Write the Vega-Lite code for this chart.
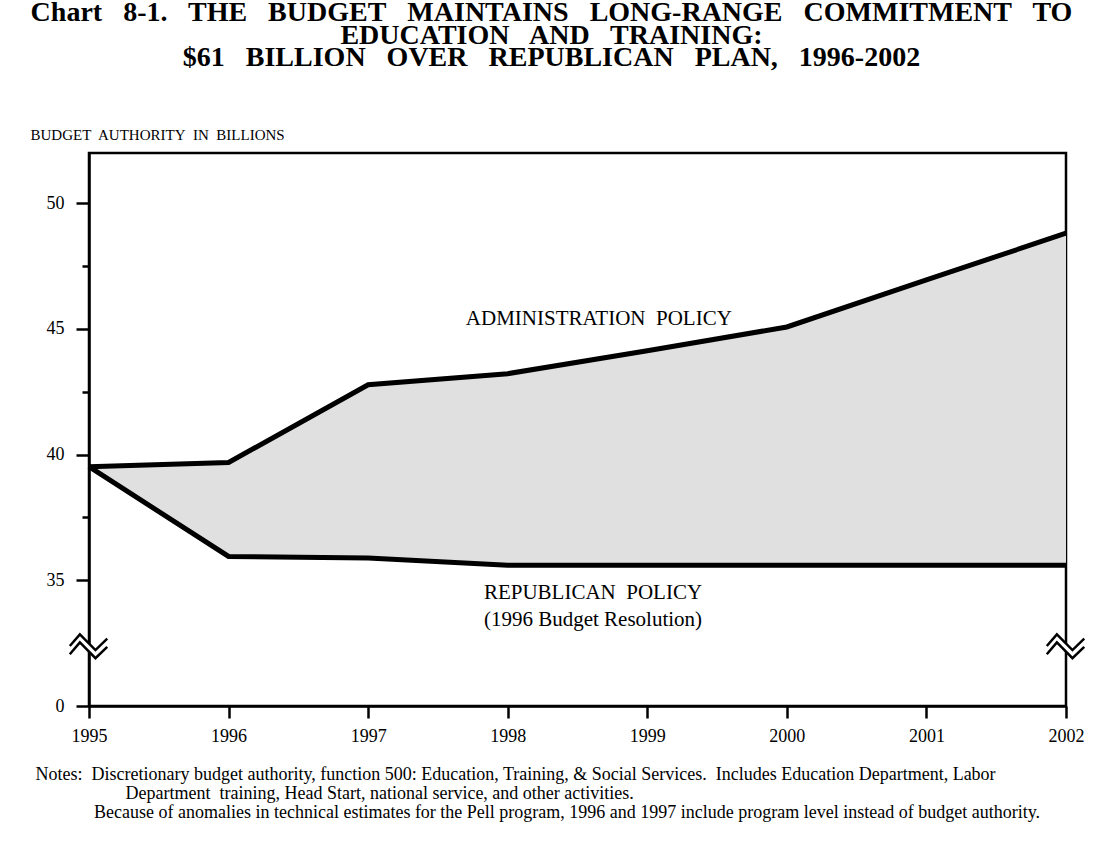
{
  "$schema": "https://vega.github.io/schema/vega-lite/v6.json",
  "width": 977,
  "height": 553,
  "autosize": {"type": "none"},
  "padding": {"left": 89, "top": 153, "right": 42, "bottom": 140},
  "background": "white",
  "title": {
    "text": ["Chart\u00a0\u00a0 8-1.\u00a0\u00a0 THE\u00a0\u00a0 BUDGET\u00a0\u00a0 MAINTAINS\u00a0\u00a0 LONG-RANGE\u00a0\u00a0 COMMITMENT\u00a0\u00a0 TO", "EDUCATION\u00a0\u00a0 AND\u00a0\u00a0 TRAINING:", "$61\u00a0\u00a0 BILLION\u00a0\u00a0 OVER\u00a0\u00a0 REPUBLICAN\u00a0\u00a0 PLAN,\u00a0\u00a0 1996-2002"],
    "font": "Liberation Serif",
    "fontSize": 28,
    "fontWeight": "bold",
    "lineHeight": 22.5,
    "color": "black",
    "anchor": "middle",
    "frame": "group",
    "dx": -26,
    "offset": 55
  },
  "datasets": {
    "budget": [
      {"year": 1995, "admin": 39.52, "rep": 39.52},
      {"year": 1996, "admin": 39.69, "rep": 35.95},
      {"year": 1997, "admin": 42.78, "rep": 35.89},
      {"year": 1998, "admin": 43.22, "rep": 35.6},
      {"year": 1999, "admin": 44.13, "rep": 35.6},
      {"year": 2000, "admin": 45.08, "rep": 35.6},
      {"year": 2001, "admin": 46.95, "rep": 35.6},
      {"year": 2002, "admin": 48.81, "rep": 35.6}
    ],
    "labels": [
      {"year": 1998.653, "value": 45.16, "text": "ADMINISTRATION\u00a0 POLICY"},
      {"year": 1998.611, "value": 34.245, "text": "REPUBLICAN\u00a0 POLICY"},
      {"year": 1998.611, "value": 33.17, "text": "(1996 Budget Resolution)"}
    ],
    "breaks": [
      {"year": 1995, "value": 32.37},
      {"year": 2002, "value": 32.37}
    ]
  },
  "layer": [
    {
      "data": {"name": "budget"},
      "mark": {"type": "area", "color": "#e0e0e0"},
      "encoding": {
        "x": {
          "field": "year", "type": "quantitative",
          "scale": {"domain": [1995, 2002], "nice": false, "zero": false},
          "axis": {
            "values": [1995, 1996, 1997, 1998, 1999, 2000, 2001, 2002],
            "format": "d",
            "grid": false,
            "labelFlush": false,
            "domainColor": "black", "domainWidth": 2.5,
            "tickColor": "black", "tickWidth": 2.5, "tickSize": 12,
            "labelFont": "Liberation Serif", "labelFontSize": 18, "labelColor": "black",
            "labelPadding": 9,
            "title": ["Notes:\u00a0 Discretionary budget authority, function 500: Education, Training, & Social Services.\u00a0 Includes Education Department, Labor", "\u200b\u00a0\u00a0\u00a0\u00a0\u00a0\u00a0\u00a0\u00a0\u00a0\u00a0\u00a0\u00a0\u00a0\u00a0\u00a0\u00a0\u00a0\u00a0\u00a0\u00a0Department\u00a0 training, Head Start, national service, and other activities.", "\u200b\u00a0\u00a0\u00a0\u00a0\u00a0\u00a0\u00a0\u00a0\u00a0\u00a0\u00a0\u00a0\u00a0Because of anomalies in technical estimates for the Pell program, 1996 and 1997 include program level instead of budget authority."],
            "titleFont": "Liberation Serif", "titleFontSize": 18, "titleFontWeight": "normal", "titleColor": "black",
            "titleAnchor": "start", "titleAlign": "left", "titleBaseline": "alphabetic",
            "titleX": -54, "titleY": 73, "titleLineHeight": 19
          }
        },
        "y": {
          "field": "admin", "type": "quantitative",
          "scale": {"domain": [30, 52], "nice": false, "zero": false},
          "axis": {
            "values": [30, 35, 37.5, 40, 42.5, 45, 47.5, 50],
            "labelExpr": "datum.value == 30 ? '0' : (datum.value % 5 == 0 ? datum.label : '')",
            "grid": false,
            "labelFlush": false,
            "domainColor": "black", "domainWidth": 2.5,
            "tickColor": "black", "tickWidth": 2.5,
            "tickSize": {"condition": {"test": "datum.value % 5 == 0", "value": 13}, "value": 7},
            "labelFont": "Liberation Serif", "labelFontSize": 18, "labelColor": "black",
            "labelPadding": 12,
            "title": "BUDGET\u00a0 AUTHORITY\u00a0 IN\u00a0 BILLIONS",
            "titleFont": "Liberation Serif", "titleFontSize": 15, "titleFontWeight": "normal", "titleColor": "black",
            "titleAngle": 0, "titleAlign": "left", "titleBaseline": "alphabetic",
            "titleX": -59, "titleY": -14
          }
        },
        "y2": {"field": "rep"}
      }
    },
    {
      "data": {"name": "budget"},
      "mark": {"type": "line", "color": "black", "strokeWidth": 5},
      "encoding": {
        "x": {"field": "year", "type": "quantitative"},
        "y": {"field": "admin", "type": "quantitative"}
      }
    },
    {
      "data": {"name": "budget"},
      "mark": {"type": "line", "color": "black", "strokeWidth": 5},
      "encoding": {
        "x": {"field": "year", "type": "quantitative"},
        "y": {"field": "rep", "type": "quantitative"}
      }
    },
    {
      "data": {"name": "labels"},
      "mark": {"type": "text", "font": "Liberation Serif", "fontSize": 21, "color": "black", "align": "center", "baseline": "alphabetic"},
      "encoding": {
        "x": {"field": "year", "type": "quantitative"},
        "y": {"field": "value", "type": "quantitative"},
        "text": {"field": "text"}
      }
    },
    {
      "data": {"name": "breaks"},
      "mark": {"type": "point", "shape": "M-1.01,-0.02L-0.48,-0.63L0.34,0.19L0.96,-0.41L0.96,0.02L0.34,0.62L-0.48,-0.21L-1.01,0.41Z", "size": 1444, "filled": true, "fill": "white", "opacity": 1, "strokeWidth": 0},
      "encoding": {
        "x": {"field": "year", "type": "quantitative"},
        "y": {"field": "value", "type": "quantitative"}
      }
    },
    {
      "data": {"name": "breaks"},
      "mark": {"type": "point", "shape": "M-1.01,-0.02L-0.48,-0.63L0.34,0.19L0.96,-0.41M-1.01,0.41L-0.48,-0.21L0.34,0.62L0.96,0.02", "size": 1444, "filled": false, "stroke": "black", "strokeWidth": 2.5, "opacity": 1},
      "encoding": {
        "x": {"field": "year", "type": "quantitative"},
        "y": {"field": "value", "type": "quantitative"}
      }
    }
  ],
  "config": {
    "view": {"stroke": "black", "strokeWidth": 2.5},
    "font": "Liberation Serif"
  }
}
